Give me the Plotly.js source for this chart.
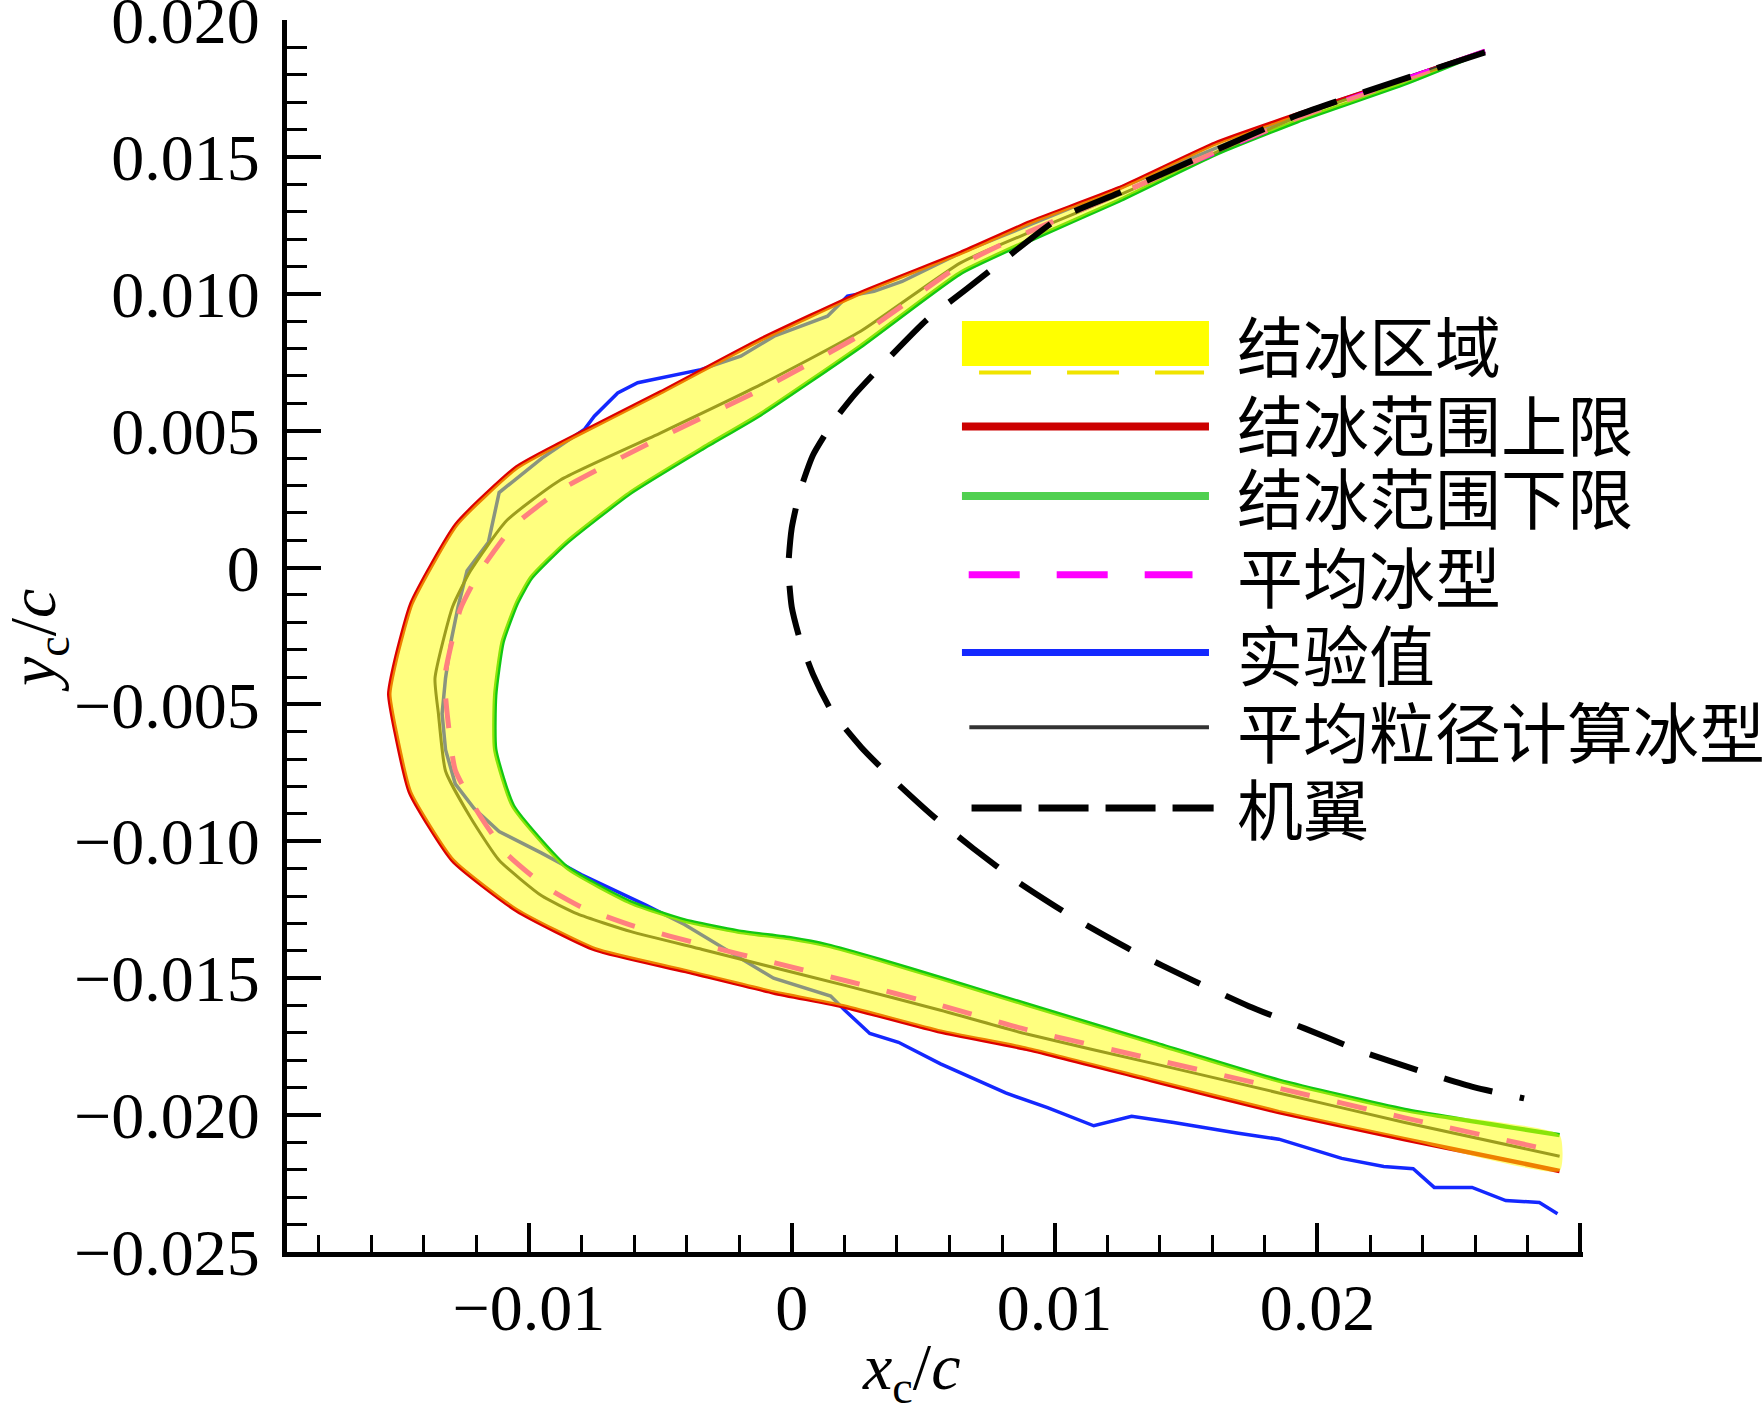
<!DOCTYPE html>
<html>
<head>
<meta charset="utf-8">
<script src="https://cdn.plot.ly/plotly-3.0.1.min.js"></script>
<style>
  html, body { margin: 0; padding: 0; background: #fff; }
  #chart { width: 1764px; height: 1413px; }
</style>
</head>
<body>
<div id="chart"></div>
<script>
// ice shape curves, x/c and y/c, upper surface -> leading edge -> lower surface
const upperLimitX = [0.02637, 0.02338, 0.01923, 0.01611, 0.01244, 0.00906, 0.00642, 0.00262, -0.00118, -0.00498, -0.00877, -0.01046, -0.01276, -0.01446, -0.01507, -0.01531, -0.01507, -0.01452, -0.01290, -0.01046, -0.00747, -0.00408, -0.00069, 0.00202, 0.00566, 0.00894, 0.01373, 0.01853, 0.02332, 0.02921];
const upperLimitY = [0.01886, 0.01787, 0.01655, 0.01549, 0.01385, 0.01261, 0.01149, 0.01003, 0.00833, 0.00640, 0.00455, 0.00366, 0.00157, -0.00130, -0.00339, -0.00462, -0.00600, -0.00821, -0.01069, -0.01252, -0.01395, -0.01473, -0.01552, -0.01604, -0.01695, -0.01758, -0.01874, -0.01989, -0.02088, -0.02204];

const lowerLimitX = [0.02637, 0.02338, 0.01923, 0.01611, 0.01244, 0.00906, 0.00642, 0.00262, -0.00118, -0.00340, -0.00611, -0.00856, -0.00991, -0.01045, -0.01100, -0.01128, -0.01128, -0.01060, -0.00856, -0.00611, -0.00408, -0.00205, 0.00000, 0.00135, 0.00338, 0.00567, 0.00894, 0.01373, 0.01853, 0.02332, 0.02921];
const lowerLimitY = [0.01886, 0.01770, 0.01630, 0.01510, 0.01340, 0.01196, 0.01076, 0.00808, 0.00560, 0.00435, 0.00275, 0.00092, -0.00037, -0.00129, -0.00273, -0.00467, -0.00664, -0.00871, -0.01095, -0.01224, -0.01289, -0.01329, -0.01355, -0.01380, -0.01434, -0.01500, -0.01596, -0.01735, -0.01874, -0.01981, -0.02073];

const meanIceX = [0.02637, 0.01923, 0.01244, 0.00906, 0.00642, 0.00262, -0.00118, -0.00498, -0.00877, -0.01060, -0.01190, -0.01260, -0.01320, -0.01310, -0.01280, -0.01190, -0.01085, -0.00930, -0.00800, -0.00600, -0.00330, -0.00060, 0.00210, 0.00570, 0.00894, 0.01373, 0.01853, 0.02332, 0.02921];
const meanIceY = [0.01886, 0.01642, 0.01365, 0.01228, 0.01105, 0.00850, 0.00650, 0.00475, 0.00285, 0.00150, -0.00020, -0.00150, -0.00400, -0.00540, -0.00740, -0.00900, -0.01045, -0.01170, -0.01240, -0.01310, -0.01380, -0.01445, -0.01510, -0.01600, -0.01688, -0.01795, -0.01902, -0.02010, -0.02135];

const expX = [0.02637, 0.01923, 0.01244, 0.00642, 0.00420, 0.00313, 0.00212, 0.00136, -0.00067, -0.00194, -0.00346, -0.00460, -0.00586, -0.00662, -0.00751, -0.00789, -0.00950, -0.01113, -0.01154, -0.01235, -0.01269, -0.01297, -0.01317, -0.01330, -0.01317, -0.01280, -0.01208, -0.01113, -0.00951, -0.00801, -0.00557, -0.00408, -0.00205, -0.00069, 0.00148, 0.00202, 0.00297, 0.00406, 0.00566, 0.00653, 0.00814, 0.00973, 0.01149, 0.01293, 0.01453, 0.01693, 0.01853, 0.02092, 0.02252, 0.02364, 0.02444, 0.02588, 0.02716, 0.02844, 0.02913];
const expY = [0.01886, 0.01655, 0.01385, 0.01149, 0.01045, 0.01009, 0.00991, 0.00918, 0.00845, 0.00772, 0.00723, 0.00699, 0.00675, 0.00638, 0.00553, 0.00504, 0.00400, 0.00274, 0.00092, -0.00012, -0.00142, -0.00274, -0.00404, -0.00534, -0.00665, -0.00790, -0.00880, -0.00964, -0.01043, -0.01121, -0.01232, -0.01304, -0.01421, -0.01500, -0.01565, -0.01617, -0.01702, -0.01734, -0.01813, -0.01850, -0.01919, -0.01973, -0.02039, -0.02004, -0.02027, -0.02065, -0.02088, -0.02158, -0.02188, -0.02196, -0.02264, -0.02264, -0.02312, -0.02319, -0.02360];

const mvdIceX = [0.02637, 0.01923, 0.01244, 0.00906, 0.00642, 0.00262, -0.00118, -0.00498, -0.00880, -0.01086, -0.01222, -0.01290, -0.01357, -0.01344, -0.01317, -0.01222, -0.01113, -0.00951, -0.00815, -0.00611, -0.00340, -0.00069, 0.00202, 0.00566, 0.00894, 0.01373, 0.01853, 0.02332, 0.02921];
const mvdIceY = [0.01886, 0.01645, 0.01360, 0.01225, 0.01113, 0.00863, 0.00668, 0.00492, 0.00320, 0.00170, -0.00012, -0.00143, -0.00404, -0.00534, -0.00743, -0.00913, -0.01069, -0.01199, -0.01265, -0.01330, -0.01395, -0.01461, -0.01526, -0.01617, -0.01704, -0.01811, -0.01919, -0.02027, -0.02150];

const airfoilX = [0.02637, 0.01923, 0.01244, 0.01013, 0.00782, 0.00662, 0.00513, 0.00372, 0.00244, 0.00162, 0.00081, 0.00030, 0.00000, -0.00013, 0.00000, 0.00030, 0.00081, 0.00150, 0.00265, 0.00393, 0.00543, 0.00692, 0.00863, 0.01077, 0.01291, 0.01526, 0.01739, 0.01953, 0.02167, 0.02380, 0.02594, 0.02786];
const airfoilY = [0.01882, 0.01652, 0.01368, 0.01274, 0.01105, 0.01015, 0.00904, 0.00768, 0.00637, 0.00538, 0.00411, 0.00275, 0.00144, 0.00000, -0.00144, -0.00259, -0.00390, -0.00522, -0.00657, -0.00781, -0.00912, -0.01027, -0.01150, -0.01282, -0.01397, -0.01508, -0.01602, -0.01684, -0.01767, -0.01836, -0.01898, -0.01939];

const xTickVals = [-0.01, 0, 0.01, 0.02, 0.03];
const xTickText = ['\u22120.01', '0', '0.01', '0.02', ''];
const yTickVals = [0.020, 0.015, 0.010, 0.005, 0, -0.005, -0.010, -0.015, -0.020, -0.025];
const yTickText = ['0.020', '0.015', '0.010', '0.005', '0', '\u22120.005', '\u22120.010', '\u22120.015', '\u22120.020', '\u22120.025'];

const legendNames = ['结冰区域', '结冰范围上限', '结冰范围下限', '平均冰型', '实验值', '平均粒径计算冰型', '机翼'];

const serif = 'Liberation Serif, Times New Roman, serif';
const cjk = 'Noto Sans CJK SC, sans-serif';

// ice region = band between upper and lower limit, drawn on top, half transparent
const bandX = upperLimitX.concat(lowerLimitX.slice().reverse());
const bandY = upperLimitY.concat(lowerLimitY.slice().reverse());

const smooth = { shape: 'spline', smoothing: 0.5 };

const data = [
  { x: expX, y: expY, mode: 'lines', name: legendNames[4],
    line: { color: '#1428ff', width: 3.5 } },
  { x: lowerLimitX, y: lowerLimitY, mode: 'lines', name: legendNames[2],
    line: Object.assign({ color: '#12c812', width: 4.5 }, smooth) },
  { x: upperLimitX, y: upperLimitY, mode: 'lines', name: legendNames[1],
    line: Object.assign({ color: '#dd0000', width: 4.5 }, smooth) },
  { x: mvdIceX, y: mvdIceY, mode: 'lines', name: legendNames[5],
    line: Object.assign({ color: '#3a3a3a', width: 3 }, smooth) },
  { x: meanIceX, y: meanIceY, mode: 'lines', name: legendNames[3],
    line: Object.assign({ color: '#ff00ff', width: 5, dash: '30px,28px' }, smooth) },
  { x: bandX, y: bandY, mode: 'lines', name: legendNames[0], fill: 'toself',
    fillcolor: 'rgba(255,255,0,0.5)', hoverinfo: 'skip',
    line: Object.assign({ color: 'rgba(0,0,0,0)', width: 0 }, smooth) },
  { x: airfoilX, y: airfoilY, mode: 'lines', name: legendNames[6],
    line: Object.assign({ color: '#000000', width: 6, dash: '50px,28px' }, smooth) }
];

// hand-drawn legend, paper coordinates (swatch + label per row)
const rowY = [0.7378, 0.6737, 0.6144, 0.5503, 0.4870, 0.4245, 0.3624];
const swL = 0.5208, swR = 0.7114;
const shapes = [
  { type: 'rect', xref: 'paper', yref: 'paper', x0: swL, x1: swR, y0: 0.7192, y1: 0.7557,
    fillcolor: '#ffff00', line: { width: 0 } },
  { type: 'line', xref: 'paper', yref: 'paper', x0: 0.534, x1: 0.7076, y0: 0.7139, y1: 0.7139,
    line: { color: '#f0e400', width: 4, dash: '52px,36px' } },
  { type: 'line', xref: 'paper', yref: 'paper', x0: swL, x1: swR, y0: 0.6701, y1: 0.6701,
    line: { color: '#cc0000', width: 8 } },
  { type: 'line', xref: 'paper', yref: 'paper', x0: swL, x1: swR, y0: 0.6136, y1: 0.6136,
    line: { color: '#50d050', width: 8 } },
  { type: 'line', xref: 'paper', yref: 'paper', x0: 0.5260, x1: 0.6987, y0: 0.5498, y1: 0.5498,
    line: { color: '#ff00ff', width: 7, dash: '51px,37px' } },
  { type: 'line', xref: 'paper', yref: 'paper', x0: swL, x1: swR, y0: 0.4866, y1: 0.4866,
    line: { color: '#1428ff', width: 7 } },
  { type: 'line', xref: 'paper', yref: 'paper', x0: 0.5265, x1: swR, y0: 0.4259, y1: 0.4259,
    line: { color: '#333333', width: 4 } },
  { type: 'line', xref: 'paper', yref: 'paper', x0: 0.5282, x1: 0.7150, y0: 0.3604, y1: 0.3604,
    line: { color: '#000000', width: 7, dash: '50px,17px' } }
];

const annotations = legendNames.map((t, i) => ({
  xref: 'paper', yref: 'paper', x: 0.7315, y: rowY[i], xanchor: 'left', yanchor: 'middle',
  text: t, showarrow: false, font: { family: cjk, size: 66, color: '#000' }
}));

annotations.push({
  xref: 'paper', yref: 'paper', x: 0.4815, y: -0.0974, xanchor: 'center', yanchor: 'middle',
  text: '<i>x</i><sub>c</sub>/<i>c</i>', showarrow: false,
  font: { family: serif, size: 66, color: '#000' }
});
annotations.push({
  xref: 'paper', yref: 'paper', x: -0.192, y: 0.496, xanchor: 'center', yanchor: 'middle',
  text: '<i>y</i><sub>c</sub>/<i>c</i>', showarrow: false, textangle: -90,
  font: { family: serif, size: 66, color: '#000' }
});

const axisCommon = {
  showgrid: false, zeroline: false, showline: true, linecolor: '#000', linewidth: 5,
  ticks: 'inside', tickcolor: '#000', tickwidth: 4, tickmode: 'array',
  ticklabeloverflow: 'allow',
  tickfont: { family: serif, size: 66, color: '#000' }
};

const layout = {
  width: 1764, height: 1413,
  margin: { l: 287, r: 181, t: 20, b: 161 },
  paper_bgcolor: '#fff', plot_bgcolor: '#fff',
  showlegend: false,
  xaxis: Object.assign({}, axisCommon, {
    range: [-0.0192, 0.0301], tickvals: xTickVals, ticktext: xTickText,
    ticklen: 29, ticklabelstandoff: -6,
    minor: { dtick: 0.002, tick0: 0, ticks: 'inside', ticklen: 17, tickwidth: 3, tickcolor: '#000' }
  }),
  yaxis: Object.assign({}, axisCommon, {
    range: [-0.025, 0.020], tickvals: yTickVals, ticktext: yTickText,
    ticklen: 34, ticklabelstandoff: 9,
    minor: { dtick: 0.001, tick0: 0, ticks: 'inside', ticklen: 20, tickwidth: 3, tickcolor: '#000' }
  }),
  shapes: shapes,
  annotations: annotations
};

Plotly.newPlot('chart', data, layout, { displayModeBar: false, staticPlot: true });
</script>
</body>
</html>
